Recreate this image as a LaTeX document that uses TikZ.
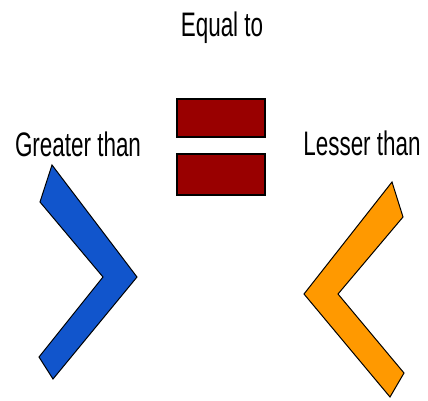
\documentclass[tikz,border=0pt]{standalone}
\usepackage{fontspec}
\setmainfont[FakeStretch=0.66]{Liberation Sans}
\usepackage{tikz}
\definecolor{gtblue}{HTML}{1155CC}
\definecolor{ltorange}{HTML}{FF9900}
\definecolor{eqred}{HTML}{990000}

\begin{document}
\begin{tikzpicture}[x=1pt, y=-1pt,
        lbl/.style = {anchor=base, inner sep=0pt, font=\fontsize{34}{36}\selectfont},
        bar/.style = {draw, fill=eqred, line width=1.2pt, minimum width=88pt, inner sep=0pt},
        sign/.style = {draw, line width=1pt, line join=miter}
    ]
        \useasboundingbox (0,0) rectangle (428,401);
        \node[lbl] (eqtxt) at (222,37) {Equal to};
        \node[lbl] (gttxt) at (78,156) {Greater than};
        \node[lbl] (lttxt) at (362,155) {Lesser than};
        \node[bar, minimum height=38pt] (bartop) at (221,118) {};
        \node[bar, minimum height=41pt] (barbot) at (221,174.5) {};
        % greater than
        \draw[sign, fill=gtblue] (52,165) -- (137,277) -- (53,379) -- (39,357)
            -- (103,277) -- (40,202) -- cycle;
        % lesser than
        \draw[sign, fill=ltorange] (392,182) -- (403,217) -- (338,294) -- (404,373)
            -- (390,397) -- (304,294) -- cycle;
    \end{tikzpicture}
\end{document}
